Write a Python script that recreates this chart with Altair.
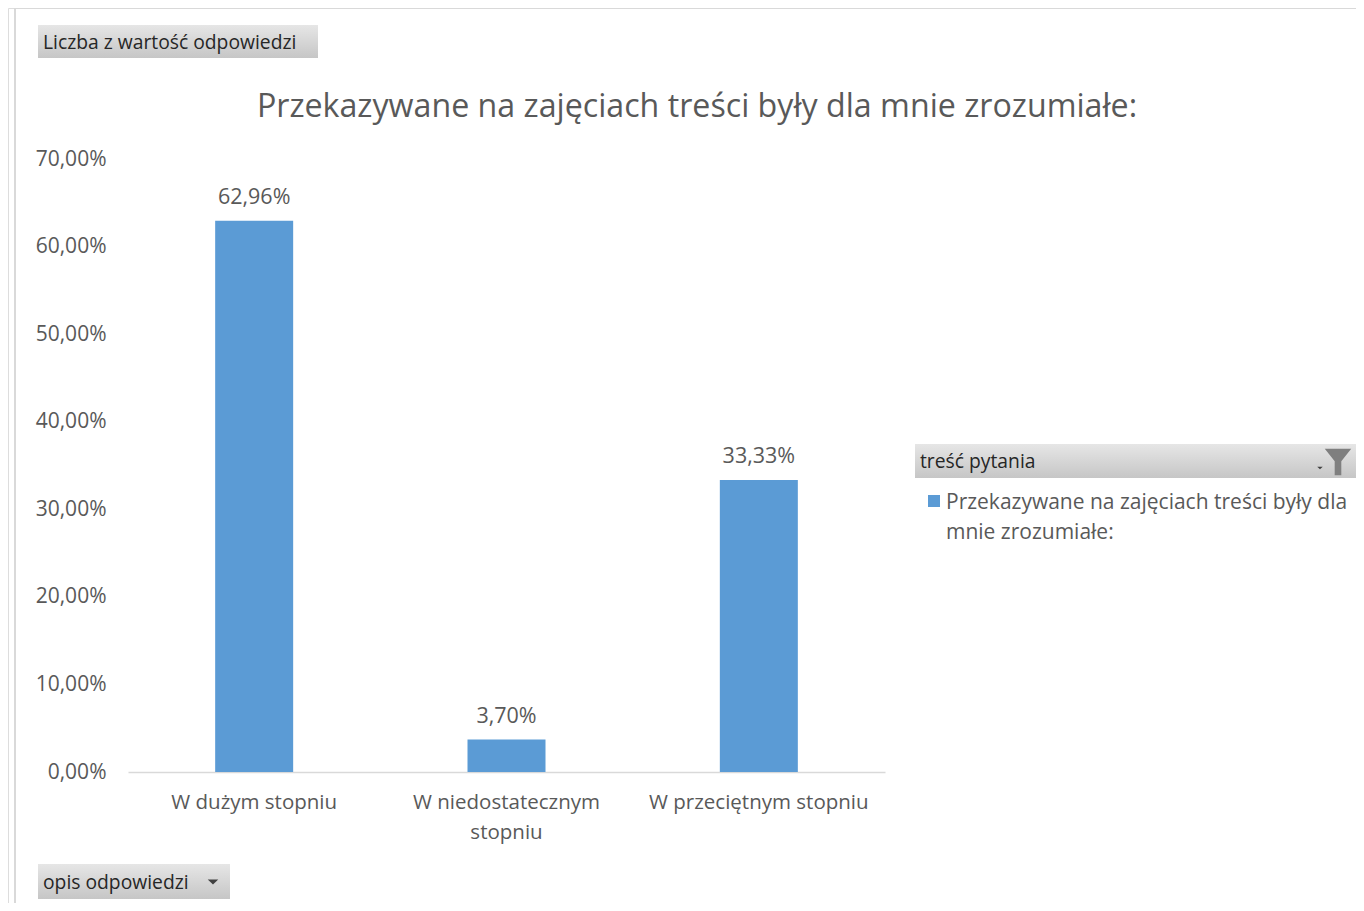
import altair as alt
import pandas as pd

categories = ["W dużym stopniu", "W niedostatecznym stopniu", "W przeciętnym stopniu"]
values = [0.6296, 0.0370, 0.3333]
series_name = "Przekazywane na zajęciach treści były dla mnie zrozumiałe:"
chart_title = "Przekazywane na zajęciach treści były dla mnie zrozumiałe:"
value_button = "Liczba z wartość odpowiedzi"
axis_button = "opis odpowiedzi"
legend_header = "treść pytania"
legend_lines = "Przekazywane na zajęciach treści były dla\nmnie zrozumiałe:"

df = pd.DataFrame({"kategoria": categories, "wartosc": values, "seria": [series_name] * len(categories)})

W, H = 1348, 895
FONT = "Open Sans"
GRAY = "#595959"
DARK = "#262626"
BLUE = "#5B9BD5"

btn_grad = alt.Gradient(gradient="linear", x1=0, x2=0, y1=0, y2=1,
                        stops=[alt.GradientStop(color="#e6e6e6", offset=0),
                               alt.GradientStop(color="#c6c6c6", offset=1)])
one = alt.Data(values=[{}])

x_enc = alt.X("kategoria:N", sort=categories, title=None,
              scale=alt.Scale(range=[120, 877], paddingInner=0, paddingOuter=0),
              axis=alt.Axis(orient="bottom", offset=-131, labelAngle=0, ticks=False, grid=False,
                            domainColor="#d9d9d9", domainWidth=1.5, labelPadding=20,
                            labelFont=FONT, labelFontSize=20.5, labelColor=GRAY, labelLimit=400,
                            labelLineHeight=30,
                            labelExpr="datum.value == 'W niedostatecznym stopniu' ? ['W niedostatecznym', 'stopniu'] : datum.value"))
y_enc = alt.Y("wartosc:Q", title=None,
              scale=alt.Scale(domain=[0, 0.7], range=[764, 151], nice=False, zero=True),
              axis=alt.Axis(orient="left", offset=-120, ticks=False, domain=False, grid=False,
                            values=[0, 0.1, 0.2, 0.3, 0.4, 0.5, 0.6, 0.7], labelPadding=22,
                            labelFont=FONT, labelFontSize=21, labelColor=GRAY,
                            labelExpr="replace(format(datum.value, '.2%'), '.', ',')"))

bars = alt.Chart(df).mark_bar(size=78).encode(
    x=x_enc, y=y_enc,
    color=alt.Color("seria:N", scale=alt.Scale(range=[BLUE]), legend=None)
)

labels = alt.Chart(df).transform_calculate(
    lbl="replace(format(datum.wartosc, '.2%'), '.', ',')"
).mark_text(baseline="bottom", dy=-12, font=FONT, fontSize=21.5, color=GRAY).encode(
    x=alt.X("kategoria:N", sort=categories), y="wartosc:Q", text="lbl:N"
)

border = alt.Chart(one).mark_rect(fill=None, stroke="#d9d9d9", strokeWidth=2).encode(
    x=alt.value(7), x2=alt.value(1500), y=alt.value(0), y2=alt.value(1200))

title = alt.Chart(one).mark_text(text=chart_title, font=FONT, fontSize=32.2, color=GRAY,
                                  align="center", baseline="middle").encode(
    x=alt.value(689), y=alt.value(99))

btn1 = alt.Chart(one).mark_rect(color=btn_grad).encode(
    x=alt.value(30), x2=alt.value(310), y=alt.value(17), y2=alt.value(50))
btn1_t = alt.Chart(one).mark_text(text=value_button, font=FONT, fontSize=19.3, color=DARK,
                                   align="left", baseline="middle").encode(
    x=alt.value(35), y=alt.value(35))

btn2 = alt.Chart(one).mark_rect(color=btn_grad).encode(
    x=alt.value(30), x2=alt.value(222), y=alt.value(856), y2=alt.value(891))
btn2_t = alt.Chart(one).mark_text(text=axis_button, font=FONT, fontSize=19.3, color=DARK,
                                   align="left", baseline="middle").encode(
    x=alt.value(35), y=alt.value(875))
btn2_arrow = alt.Chart(one).mark_point(shape="M-1,-0.5L1,-0.5L0,0.5Z", filled=True, size=110,
                                        color="#404040", opacity=1).encode(
    x=alt.value(205), y=alt.value(874))

hdr = alt.Chart(one).mark_rect(color=btn_grad).encode(
    x=alt.value(907), x2=alt.value(1350), y=alt.value(436), y2=alt.value(470))
hdr_t = alt.Chart(one).mark_text(text=legend_header, font=FONT, fontSize=19.3, color=DARK,
                                  align="left", baseline="middle").encode(
    x=alt.value(912), y=alt.value(454))
funnel = alt.Chart(one).mark_point(
    shape="M-1,-1L1,-1L0.25,-0.05L0.25,1L-0.25,1L-0.25,-0.05Z", filled=True, size=700,
    color="#7f7f7f", opacity=1).encode(x=alt.value(1330), y=alt.value(454))
drop = alt.Chart(one).mark_point(shape="M-1,-0.5L1,-0.5L0,0.5Z", filled=True, size=30,
                                  color="#404040", opacity=1).encode(
    x=alt.value(1312), y=alt.value(460))

leg_sym = alt.Chart(one).mark_rect(color=BLUE).encode(
    x=alt.value(920), x2=alt.value(932), y=alt.value(487), y2=alt.value(499))
leg_txt = alt.Chart(one).mark_text(text=legend_lines, lineBreak="\n", lineHeight=30,
                                    font=FONT, fontSize=21, color=GRAY,
                                    align="left", baseline="alphabetic").encode(
    x=alt.value(938), y=alt.value(501))

chart = alt.layer(border, btn1, btn1_t, btn2, btn2_t, btn2_arrow, hdr, hdr_t, funnel, drop,
                  leg_sym, leg_txt, title, bars, labels).properties(
    width=W, height=H, autosize=alt.AutoSizeParams(type="none"), padding=0
).configure_view(stroke=None).configure(background="white")

chart.save("out.html", embed_options={"renderer": "svg", "actions": False})
